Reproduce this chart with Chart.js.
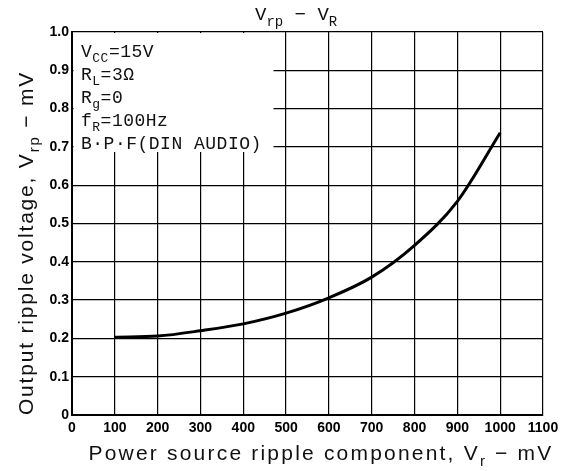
<!DOCTYPE html>
<html>
<head>
<meta charset="utf-8">
<script src="https://cdn.jsdelivr.net/npm/chart.js@4/dist/chart.umd.min.js"></script>
<style>
  html, body { margin: 0; padding: 0; background: #fff; }
  #wrap { width: 566px; height: 471px; }
</style>
</head>
<body>
<div id="wrap"><canvas id="chart"></canvas></div>
<script>
// power source ripple (mV) vs output ripple (mV)
const sourceRipple = [100, 200, 300, 400, 500, 600, 700, 800, 900, 1000];
const outputRipple = [0.203, 0.206, 0.220, 0.238, 0.266, 0.306, 0.360, 0.443, 0.558, 0.737];
const xTickValues = [0, 100, 200, 300, 400, 500, 600, 700, 800, 900, 1000, 1100];
const yTickValues = [0, 0.1, 0.2, 0.3, 0.4, 0.5, 0.6, 0.7, 0.8, 0.9, 1.0];
// each line: [text, isSubscript]
const conditions = [
  [["V", false], ["CC", true], ["=15V", false]],
  [["R", false], ["L", true], ["=3Ω", false]],
  [["R", false], ["g", true], ["=0", false]],
  [["f", false], ["R", true], ["=100Hz", false]],
  [["B·P·F(DIN AUDIO)", false]]
];
const chartTitle = [["V", false], ["rp", true], [" − V", false], ["R", true]];
const xTitle = [["Power source ripple component, V", false], ["r", true], [" − mV", false]];
const yTitle = [["Output ripple voltage, V", false], ["rp", true], [" − mV", false]];

function richWidth(ctx, parts, size, family, weight, spacing) {
  let w = 0;
  ctx.letterSpacing = spacing || "0px";
  parts.forEach(([t, sub]) => {
    ctx.font = `${weight} ${sub ? Math.round(size * 0.72) : size}px ${family}`;
    w += ctx.measureText(t).width;
  });
  return w;
}

function drawRich(ctx, parts, x, y, size, family, weight, spacing) {
  ctx.textBaseline = "alphabetic";
  ctx.textAlign = "left";
  ctx.letterSpacing = spacing || "0px";
  parts.forEach(([t, sub]) => {
    ctx.font = `${weight} ${sub ? Math.round(size * 0.72) : size}px ${family}`;
    ctx.fillText(t, x, sub ? y + size * 0.3 : y);
    x += ctx.measureText(t).width;
  });
}

const textPlugin = {
  id: "texts",
  beforeDatasetsDraw(chart) {
    const { ctx, chartArea } = chart;
    // blank patch behind the conditions block
    ctx.save();
    ctx.fillStyle = "#fff";
    ctx.fillRect(chartArea.left + 1.5, chartArea.top + 1, 200, 119);
    ctx.restore();
  },
  afterDraw(chart) {
    const { ctx, chartArea } = chart;
    ctx.save();
    ctx.fillStyle = "#111";
    const mono = "'Liberation Mono', 'DejaVu Sans Mono', monospace";
    conditions.forEach((line, i) => {
      drawRich(ctx, line, chartArea.left + 9, chartArea.top + 25 + i * 23, 18, mono, "normal", "0.5px");
    });
    // top title
    drawRich(ctx, chartTitle, 255, 20, 19, mono, "normal");

    const sans = "'Liberation Sans', Arial, sans-serif";
    // x axis title
    const xw = richWidth(ctx, xTitle, 21, sans, "normal", "2.2px");
    drawRich(ctx, xTitle, 321 - xw / 2, 460, 21, sans, "normal", "2.2px");
    // y axis title
    ctx.translate(33, 243);
    ctx.rotate(-Math.PI / 2);
    const yw = richWidth(ctx, yTitle, 21, sans, "normal", "1.8px");
    drawRich(ctx, yTitle, -yw / 2, 0, 21, sans, "normal", "1.8px");
    ctx.restore();
  }
};

const tickFont = { family: "'Liberation Sans Narrow', 'Liberation Sans', Arial, sans-serif", size: 14, weight: "bold" };

new Chart(document.getElementById("chart"), {
  type: "line",
  data: {
    datasets: [{
      data: sourceRipple.map((v, i) => ({ x: v, y: outputRipple[i] })),
      borderColor: "#000",
      borderWidth: 3,
      pointRadius: 0,
      fill: false,
      cubicInterpolationMode: "monotone"
    }]
  },
  options: {
    responsive: true,
    maintainAspectRatio: false,
    animation: false,
    layout: { padding: { left: 0, right: 23, top: 32, bottom: 0 } },
    plugins: { legend: { display: false }, tooltip: { enabled: false } },
    scales: {
      x: {
        type: "linear",
        min: 0,
        max: 1100,
        afterBuildTicks: (scale) => { scale.ticks = xTickValues.map((v) => ({ value: v })); },
        afterFit: (scale) => { scale.height = 56; },
        grid: { color: "#000", lineWidth: 1.2, drawTicks: false },
        border: { color: "#000", width: 2 },
        ticks: { color: "#000", font: tickFont, padding: 5, maxRotation: 0, autoSkip: false,
          callback: (v) => String(v) }
      },
      y: {
        min: 0,
        max: 1,
        afterBuildTicks: (scale) => { scale.ticks = yTickValues.map((v) => ({ value: v })); },
        afterFit: (scale) => { scale.width = 72; },
        grid: { color: "#000", lineWidth: 1.2, drawTicks: false },
        border: { color: "#000", width: 2 },
        ticks: { color: "#000", font: tickFont, padding: 3, autoSkip: false,
          callback: (v) => (v === 0 ? "0" : v.toFixed(1)) }
      }
    }
  },
  plugins: [textPlugin]
});
</script>
</body>
</html>
